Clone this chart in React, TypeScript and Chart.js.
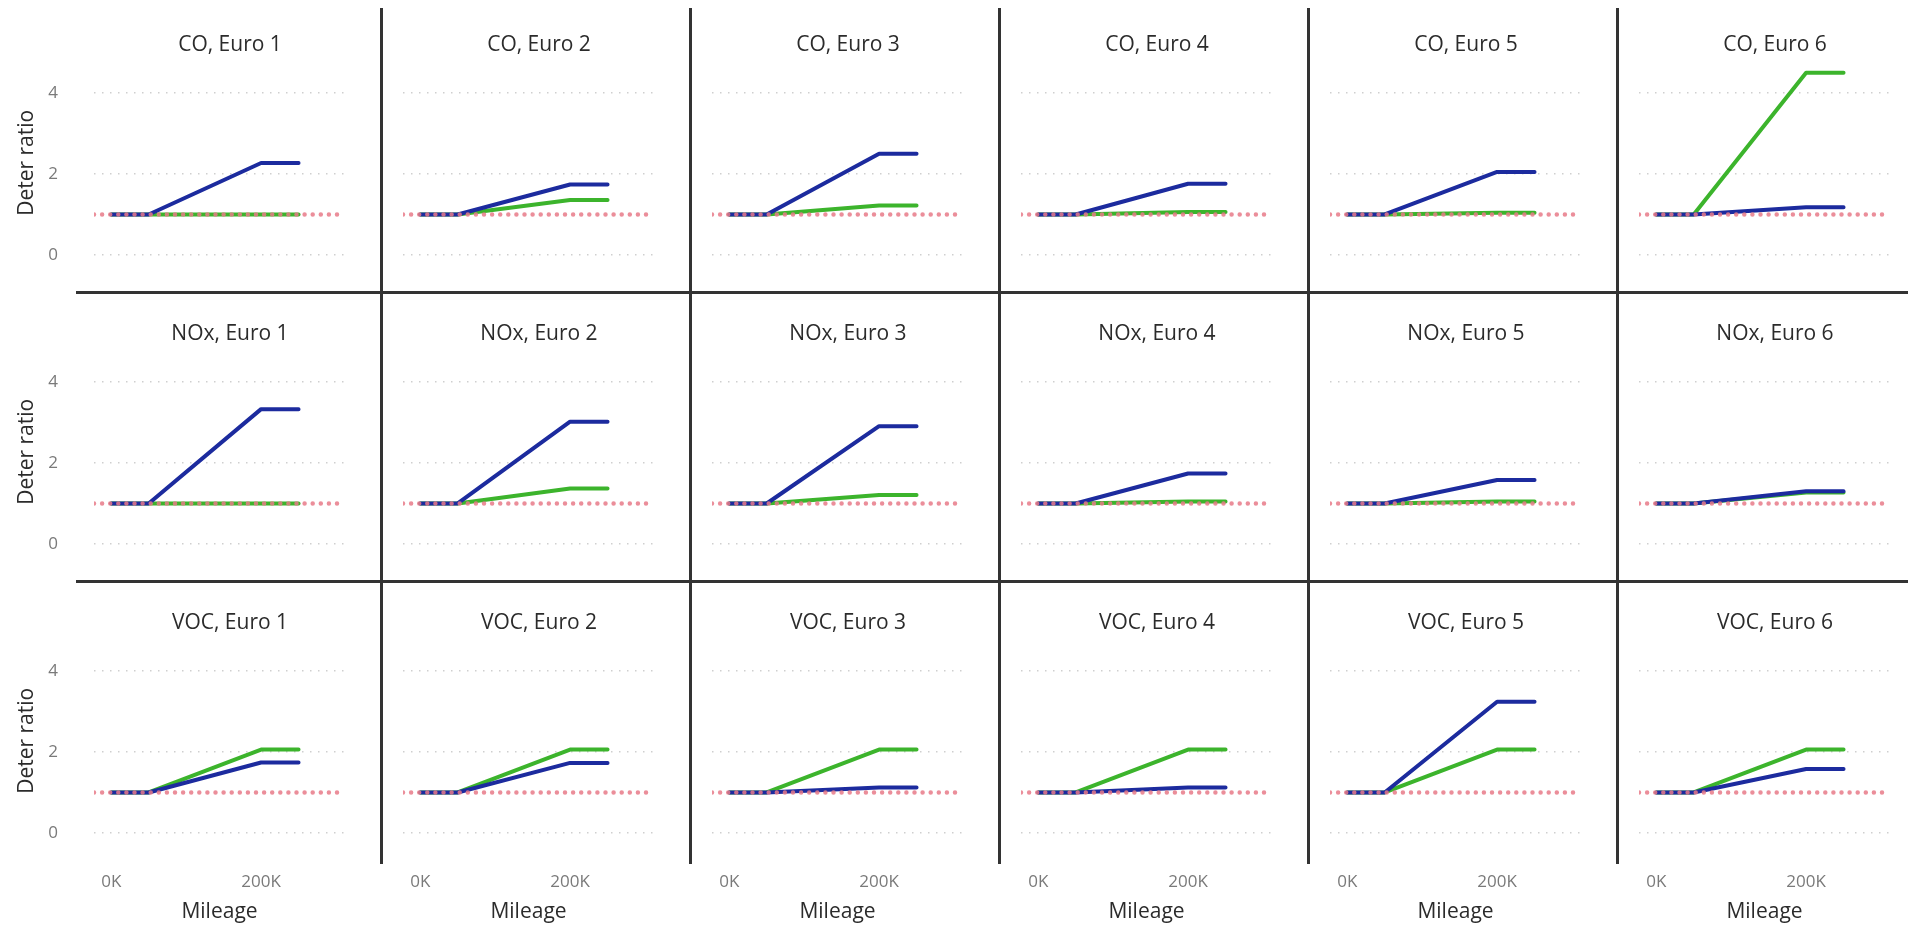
import React, { useEffect, useRef } from "react";
import { Chart, registerables } from "chart.js";

Chart.register(...registerables);

// ---------------- data ----------------
const POLLUTANTS = ["CO", "NOx", "VOC"];
const STANDARDS = ["Euro 1", "Euro 2", "Euro 3", "Euro 4", "Euro 5", "Euro 6"];
const MILEAGE = [0, 50000, 200000, 250000];
const X_TICKS = [0, 200000];
const Y_TICKS = [0, 2, 4];
const REFERENCE_RATIO = 1;

// blue series, one row per Euro standard (values at MILEAGE)
const BLUE_CO = [
  [1, 1, 2.27, 2.27],
  [1, 1, 1.74, 1.74],
  [1, 1, 2.5, 2.5],
  [1, 1, 1.76, 1.76],
  [1, 1, 2.05, 2.05],
  [1, 1, 1.18, 1.18],
];
const GREEN_CO = [
  [1, 1, 1, 1],
  [1, 1, 1.36, 1.36],
  [1, 1, 1.22, 1.22],
  [1, 1, 1.06, 1.06],
  [1, 1, 1.04, 1.04],
  [1, 1, 4.5, 4.5],
];
const BLUE_NOX = [
  [1, 1, 3.33, 3.33],
  [1, 1, 3.02, 3.02],
  [1, 1, 2.91, 2.91],
  [1, 1, 1.74, 1.74],
  [1, 1, 1.58, 1.58],
  [1, 1, 1.3, 1.3],
];
const GREEN_NOX = [
  [1, 1, 1, 1],
  [1, 1, 1.37, 1.37],
  [1, 1, 1.21, 1.21],
  [1, 1, 1.05, 1.05],
  [1, 1, 1.05, 1.05],
  [1, 1, 1.27, 1.27],
];
const BLUE_VOC = [
  [1, 1, 1.74, 1.74],
  [1, 1, 1.73, 1.73],
  [1, 1, 1.12, 1.12],
  [1, 1, 1.12, 1.12],
  [1, 1, 3.24, 3.24],
  [1, 1, 1.58, 1.58],
];
const GREEN_VOC = [
  [1, 1, 2.06, 2.06],
  [1, 1, 2.06, 2.06],
  [1, 1, 2.06, 2.06],
  [1, 1, 2.06, 2.06],
  [1, 1, 2.06, 2.06],
  [1, 1, 2.06, 2.06],
];

const BLUE_SERIES = [BLUE_CO, BLUE_NOX, BLUE_VOC];
const GREEN_SERIES = [GREEN_CO, GREEN_NOX, GREEN_VOC];

// ---------------- layout / style ----------------
const FONT = "'Open Sans', 'Noto Sans', sans-serif";
const X_MIN = -23000;
const X_MAX = 312000;
const Y_MIN = -0.75;
const Y_MAX = 5.3;

const W = 1908;
const H = 928;
const PANEL_LEFT0 = 72;
const COL_W = 309;
const ROW_TOP0 = 3;
const ROW_H = 289;
const PLOT_PAD_L = 22;
const PLOT_PAD_R = 36;
const PLOT_TOP = 37.35;
const PLOT_H = 245;
const Y_AXIS_W = 94;

const BLUE = "#1c2b9e";
const GREEN = "#3cb42c";
const REF_COLOR = "rgba(232, 122, 136, 0.85)";
const GRID_COLOR = "#cfcfcf";
const SEP_COLOR = "#333333";
const TITLE_COLOR = "#2b2b2b";
const TICK_COLOR = "#7a7a7a";

function geometry(r: number, c: number) {
  const left = c === 0 ? 0 : PANEL_LEFT0 + COL_W * c;
  const width = c === 0 ? PANEL_LEFT0 + COL_W : COL_W;
  const top = ROW_TOP0 + ROW_H * r;
  const height = r === 2 ? H - top : ROW_H;
  return { left, width, top, height };
}

function Panel({ r, c }: { r: number; c: number }) {
  const ref = useRef<HTMLCanvasElement>(null);
  const g = geometry(r, c);
  useEffect(() => {
    const blue = BLUE_SERIES[r][c];
    const green = GREEN_SERIES[r][c];
    const bottomRow = r === 2;
    const firstCol = c === 0;
    const bottomSpace = g.height - PLOT_TOP - PLOT_H;
    const chart = new Chart(ref.current as HTMLCanvasElement, {
      type: "line",
      data: {
        datasets: [
          {
            label: "Reference",
            data: [
              { x: X_MIN, y: REFERENCE_RATIO },
              { x: X_MAX, y: REFERENCE_RATIO },
            ],
            borderColor: REF_COLOR,
            borderWidth: 4.5,
            borderDash: [0, 8.1],
            borderCapStyle: "round",
            pointRadius: 0,
          },
          {
            label: "Blue",
            data: MILEAGE.map((m, i) => ({ x: m, y: blue[i] })),
            borderColor: BLUE,
            borderWidth: 4,
            borderCapStyle: "round",
            borderJoinStyle: "round",
            pointRadius: 0,
          },
          {
            label: "Green",
            data: MILEAGE.map((m, i) => ({ x: m, y: green[i] })),
            borderColor: GREEN,
            borderWidth: 4,
            borderCapStyle: "round",
            borderJoinStyle: "round",
            pointRadius: 0,
          },
        ],
      },
      options: {
        animation: false,
        responsive: false,
        devicePixelRatio: 1,
        events: [],
        layout: {
          padding: {
            left: firstCol ? 0 : PLOT_PAD_L,
            right: PLOT_PAD_R,
            top: PLOT_TOP,
            bottom: bottomRow ? 0 : bottomSpace,
          },
        },
        plugins: {
          legend: { display: false },
          tooltip: { enabled: false },
        },
        scales: {
          x: {
            type: "linear",
            min: X_MIN,
            max: X_MAX,
            display: bottomRow,
            afterBuildTicks: (s: any) => {
              s.ticks = X_TICKS.map((v) => ({ value: v }));
            },
            afterFit: (s: any) => {
              s.height = bottomRow ? bottomSpace : 0;
              s.paddingLeft = 0;
              s.paddingRight = 0;
            },
            grid: { display: false, drawTicks: false },
            border: { display: false },
            ticks: {
              color: TICK_COLOR,
              font: { family: FONT, size: 17 },
              padding: 9,
              maxRotation: 0,
              autoSkip: false,
              callback: (v: any) => `${Number(v) / 1000}K`,
            },
            title: {
              display: true,
              text: "Mileage",
              color: TITLE_COLOR,
              font: { family: FONT, size: 21 },
              padding: { top: 0, bottom: 3 },
            },
          },
          y: {
            type: "linear",
            min: Y_MIN,
            max: Y_MAX,
            afterBuildTicks: (s: any) => {
              s.ticks = Y_TICKS.map((v) => ({ value: v }));
            },
            afterFit: (s: any) => {
              s.width = firstCol ? Y_AXIS_W : 0;
              s.paddingTop = 0;
              s.paddingBottom = 0;
            },
            grid: { color: GRID_COLOR, lineWidth: 1.5, drawTicks: false },
            border: { display: false, dash: [1.5, 6.5] },
            ticks: {
              display: firstCol,
              color: TICK_COLOR,
              font: { family: FONT, size: 17 },
              padding: 36,
            },
            title: {
              display: firstCol,
              text: "Deter ratio",
              color: TITLE_COLOR,
              font: { family: FONT, size: 21 },
              padding: { top: 14, bottom: 0 },
            },
          },
        },
      } as any,
    });
    return () => chart.destroy();
  }, [r, c]);
  return (
    <canvas
      ref={ref}
      width={g.width}
      height={g.height}
      style={{ position: "absolute", left: g.left, top: g.top, width: g.width, height: g.height }}
    />
  );
}

export default function App() {
  const panels: React.ReactNode[] = [];
  const titles: React.ReactNode[] = [];
  POLLUTANTS.forEach((p, r) => {
    STANDARDS.forEach((s, c) => {
      panels.push(<Panel key={`p-${r}-${c}`} r={r} c={c} />);
      titles.push(
        <div
          key={`t-${r}-${c}`}
          style={{
            position: "absolute",
            left: PANEL_LEFT0 + COL_W * c + 158,
            top: ROW_TOP0 + ROW_H * r + 40,
            transform: "translate(-50%, -50%)",
            whiteSpace: "nowrap",
            fontFamily: FONT,
            fontSize: 21,
            color: TITLE_COLOR,
            lineHeight: 1,
          }}
        >
          {`${p}, ${s}`}
        </div>
      );
    });
  });
  const seps: React.ReactNode[] = [];
  [1, 2].forEach((r) => {
    seps.push(
      <div
        key={`h-${r}`}
        style={{
          position: "absolute",
          left: 76,
          top: ROW_TOP0 + ROW_H * r - 1.5,
          width: W - 76,
          height: 3,
          background: SEP_COLOR,
        }}
      />
    );
  });
  [1, 2, 3, 4, 5].forEach((c) => {
    seps.push(
      <div
        key={`v-${c}`}
        style={{
          position: "absolute",
          left: PANEL_LEFT0 + COL_W * c - 1.5,
          top: 8,
          width: 3,
          height: 856,
          background: SEP_COLOR,
        }}
      />
    );
  });
  return (
    <div
      style={{
        position: "absolute",
        left: 0,
        top: 0,
        width: W,
        height: H,
        overflow: "hidden",
        background: "#ffffff",
      }}
    >
      {panels}
      {seps}
      {titles}
    </div>
  );
}
